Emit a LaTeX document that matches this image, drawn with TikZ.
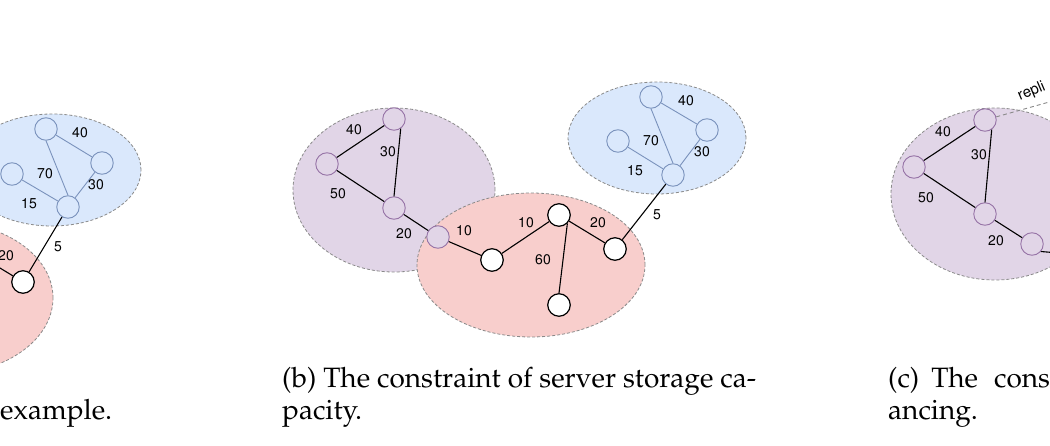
\documentclass[tikz,border=0pt]{standalone}
\usepackage[T1]{fontenc}
\usetikzlibrary{shapes.geometric}
\definecolor{purpleFill}{HTML}{E1D5E7}
\definecolor{redFill}{HTML}{F8CECC}
\definecolor{blueFill}{HTML}{DAE8FC}
\definecolor{purpleLine}{HTML}{9673A6}
\definecolor{blueLine}{HTML}{7A92BC}
\definecolor{regionLine}{HTML}{8A8A8A}
\begin{document}
\begin{tikzpicture}[x=1pt,y=-1pt,
  region/.style={ellipse, draw=regionLine, dash pattern=on 3pt off 2pt, line width=0.8pt, inner sep=0pt},
  pnode/.style={circle, minimum size=22.5pt, inner sep=0pt, draw=purpleLine, fill=purpleFill, line width=0.9pt},
  bnode/.style={circle, minimum size=22.5pt, inner sep=0pt, draw=blueLine, fill=blueFill, line width=0.9pt},
  wnode/.style={circle, minimum size=22.5pt, inner sep=0pt, draw=black, fill=white, line width=1.2pt},
  blink/.style={draw=blueLine, line width=0.9pt},
  klink/.style={draw=black, line width=1.1pt},
  replink/.style={draw=regionLine, dash pattern=on 4pt off 3pt, line width=0.9pt},
  wlabel/.style={font=\fontfamily{phv}\fontsize{14}{16}\selectfont, inner sep=0pt},
  capt/.style={font=\fontfamily{ppl}\fontsize{28}{32}\selectfont, inner sep=0pt, anchor=base west},
]
\useasboundingbox (0,0) rectangle (1050,446);
\clip (0,0) rectangle (1050,446);
\fill[white] (0,0) rectangle (1050,446);

% ---------- panel (a) ----------
\node[region, fill=blueFill, minimum width=178pt, minimum height=112pt] (aBlue) at (52,170) {};
\node[region, fill=redFill, minimum width=216pt, minimum height=152pt] (aRed) at (-55,298) {};
\node[bnode] (aB1) at (46,129) {};
\node[bnode] (aB2) at (102,163) {};
\node[bnode] (aB3) at (12,174) {};
\node[bnode] (aB4) at (68,207) {};
\node[wnode] (aW) at (23,282) {};
\coordinate (aWprev) at (-33,248);
\draw[blink] (aB1) -- (aB2);
\draw[blink] (aB1.south) -- (aB4.north);
\draw[blink] (aB2) -- (aB4);
\draw[blink] (aB3) -- (aB4);
\draw[klink] (aB4) -- (aW);
\draw[klink] (aW) -- (aWprev);
\node[wlabel] (aL40) at (80,133) {40};
\node[wlabel] (aL70) at (45,174) {70};
\node[wlabel] (aL30) at (96,185) {30};
\node[wlabel] (aL15) at (29,204) {15};
\node[wlabel] (aL5) at (58,247) {5};
\node[wlabel] (aL20) at (6,256) {20};

% ---------- panel (b) ----------
\node[region, fill=purpleFill, minimum width=202pt, minimum height=164pt] (bPurple) at (394,190) {};
\node[region, fill=redFill, minimum width=228pt, minimum height=144pt] (bRed) at (531,265) {};
\node[region, fill=blueFill, minimum width=178pt, minimum height=112pt] (bBlue) at (657,138) {};
\node[pnode] (bP1) at (394,119) {};
\node[pnode] (bP2) at (327,164) {};
\node[pnode] (bP3) at (394,208) {};
\node[pnode] (bP4) at (438,237) {};
\node[wnode] (bW1) at (492,260) {};
\node[wnode] (bW2) at (559,215) {};
\node[wnode] (bW3) at (615,249) {};
\node[wnode] (bW4) at (559,305) {};
\node[bnode] (bB1) at (651,97) {};
\node[bnode] (bB2) at (707,130) {};
\node[bnode] (bB3) at (618,141) {};
\node[bnode] (bB4) at (673,175) {};
\draw[klink] (bP1) -- (bP2);
\draw[klink] (bP1.-55) -- (bP3.north);
\draw[klink] (bP2) -- (bP3);
\draw[klink] (bP3) -- (bP4);
\draw[klink] (bP4) -- (bW1);
\draw[klink] (bW1) -- (bW2);
\draw[klink] (bW2) -- (bW3);
\draw[klink] (bW2.south east) -- (bW4.north);
\draw[klink] (bW3) -- (bB4);
\draw[blink] (bB1) -- (bB2);
\draw[blink] (bB1.south) -- (bB4.north);
\draw[blink] (bB2) -- (bB4);
\draw[blink] (bB3) -- (bB4);
\node[wlabel] (bL40) at (354,130) {40};
\node[wlabel] (bL30) at (388,152) {30};
\node[wlabel] (bL50) at (338,194) {50};
\node[wlabel] (bL20a) at (404,234) {20};
\node[wlabel] (bL10a) at (464,231) {10};
\node[wlabel] (bL10b) at (526,223) {10};
\node[wlabel] (bL20b) at (598,223) {20};
\node[wlabel] (bL60) at (543,260) {60};
\node[wlabel] (bL5) at (657,215) {5};
\node[wlabel] (bL40b) at (686,101) {40};
\node[wlabel] (bL70) at (651,141) {70};
\node[wlabel] (bL30b) at (702,152) {30};
\node[wlabel] (bL15) at (635,171) {15};

% ---------- panel (c) ----------
\node[region, fill=purpleFill, minimum width=208pt, minimum height=172pt] (cPurple) at (995,194) {};
\node[pnode] (cP1) at (985,120) {};
\node[pnode] (cP2) at (914,167) {};
\node[pnode] (cP3) at (985,214) {};
\node[pnode] (cP4) at (1032,244) {};
\coordinate (cOut) at (1095,256);
\coordinate (cRep) at (1110,85);
\draw[klink] (cP1) -- (cP2);
\draw[klink] (cP1.-55) -- (cP3.north);
\draw[klink] (cP2) -- (cP3);
\draw[klink] (cP3) -- (cP4);
\draw[klink] (cP4.-40) -- (cOut);
\draw[replink] (cP1) -- (cRep);
\node[font=\fontfamily{phv}\fontsize{15}{17}\selectfont, inner sep=0pt, anchor=base west, rotate=23] (cRepText) at (1020,101) {repli};
\node[wlabel] (cL40) at (943,132) {40};
\node[wlabel] (cL30) at (979,155) {30};
\node[wlabel] (cL50) at (926,198) {50};
\node[wlabel] (cL20) at (996,241) {20};

% ---------- captions ----------
\node[capt] (capA) at (0,420) {example.};
\node[capt] (capB1) at (282,388) {(b) The constraint of server storage ca-};
\node[capt] (capB2) at (282,420) {pacity.};
\node[capt] (capC1) at (888,388) {(c)\hspace{12pt}The\hspace{16pt}cons};
\node[capt] (capC2) at (888,420) {ancing.};
\end{tikzpicture}
\end{document}
